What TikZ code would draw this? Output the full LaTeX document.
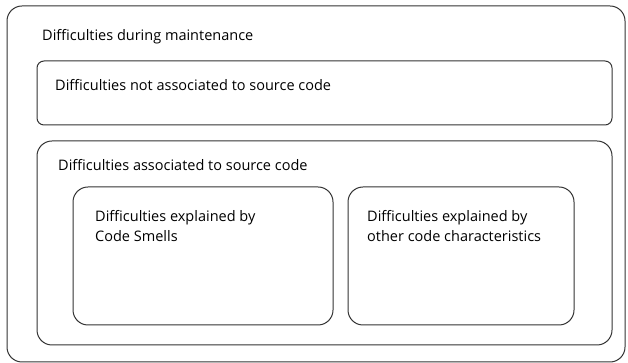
\documentclass[tikz,border=0pt]{standalone}
\usepackage{fontspec}
\setmainfont{Open Sans}
\tikzset{
  box/.style={line width=1pt,draw=black!80},
  lbl/.style={anchor=base west,inner sep=0pt,align=left,font=\fontsize{14.5}{20}\selectfont}
}
\begin{document}
\begin{tikzpicture}[x=1pt,y=1pt]
	\useasboundingbox (0,0) rectangle (628,363);
	% outer and middle boxes
	\draw[box,rounded corners=15pt] (7,1) rectangle (625,357);
	\draw[box,rounded corners=7pt] (37,238) rectangle (612,302);
	\draw[box,rounded corners=15pt] (37,18) rectangle (612,222);
	% inner boxes
	\draw[box,rounded corners=15pt] (73,38) rectangle (333,176);
	\draw[box,rounded corners=15pt] (348,38) rectangle (574,176);
	% labels
	\node[lbl] (maint) at (42,322) {Difficulties during maintenance};
	\node[lbl] (notsrc) at (55,272) {Difficulties not associated to source code};
	\node[lbl] (src) at (58,192) {Difficulties associated to source code};
	\node[lbl] (smells) at (95,121) {Difficulties explained by\\Code Smells};
	\node[lbl] (other) at (367,121) {Difficulties explained by\\other code characteristics};
\end{tikzpicture}
\end{document}
